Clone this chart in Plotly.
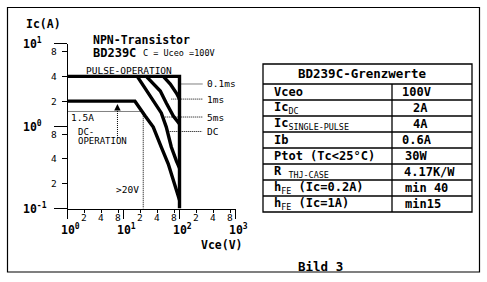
import math
import plotly.graph_objects as go

W, H = 487, 282

# ---------------- data ----------------
pulse_v = [1, 100, 100]          # pulse-operation envelope (Vce, V)
pulse_i = [4, 4, 0.1]            # (Ic, A)
dc_v = [1, 16, 24.4, 34, 47.3, 63.1, 100]
dc_i = [2, 2, 1.32, 0.97, 0.556, 0.346, 0.127]
ms5_v = [17.6, 26.5, 47.3, 58.1, 71.4, 87.9, 100]
ms5_i = [4, 2.58, 1.44, 0.97, 0.556, 0.377, 0.31]
ms1_v = [25.5, 45.4, 58.1, 77.6, 100]
ms1_i = [4, 2.66, 1.90, 1.32, 1.06]
ms01_v = [51.3, 68.5, 87.9, 100]
ms01_i = [4, 3.23, 2.51, 2.12]

curve_names = ["0.1ms", "1ms", "5ms", "DC"]
curve_label_i = [3.23, 2.12, 1.285, 0.858]
curve_label_v0 = [100, 71.4, 51.3, 58.1]
curve_label_v1 = 256
curve_label_vt = 290

dc_limit_i = 1.5
dc_limit_v = 22.5
arrow_v = 7.8
arrow_tail_i = 0.716
arrow_shaft_i = 1.62
arrow_tip_i = 1.85

x_major = [1, 10, 100, 1000]
x_major_text = ["10<sup>0</sup>", "10<sup>1</sup>", "10<sup>2</sup>", "10<sup>3</sup>"]
x_minor = [2, 4, 8, 20, 40, 80, 200, 400, 800]
x_minor_text = ["2", "4", "8", "2", "4", "8", "2", "4", "8"]
y_major = [0.1, 1, 10]
y_major_text = ["10<sup>-1</sup>", "10<sup>0</sup>", "10<sup>1</sup>"]
y_minor = [0.2, 0.4, 0.8, 2, 4, 8]
y_minor_text = ["2", "4", "8", "2", "4", "8"]

table_title = "BD239C-Grenzwerte"
table_params = ["Vceo", "Ic<sub>DC</sub>", "Ic<sub>SINGLE-PULSE</sub>", "Ib",
                "Ptot (Tc<25°C)", "R <sub>THJ-CASE</sub>",
                "h<sub>FE</sub> (Ic=0.2A)", "h<sub>FE</sub> (Ic=1A)"]
table_values = ["100V", "2A", "4A", "0.6A", "30W", "4.17K/W", "min 40", "min15"]

# ---------------- helpers ----------------
MONO = "DejaVu Sans Mono"


def px(x):
    return x / W


def py(y):
    return 1 - y / H


def font(size):
    return dict(family=MONO, size=size, color="black")


fig = go.Figure()

thick = dict(color="black", width=3.4)
for v, i in [(pulse_v, pulse_i), (dc_v, dc_i), (ms5_v, ms5_i), (ms1_v, ms1_i), (ms01_v, ms01_i)]:
    fig.add_trace(go.Scatter(x=v, y=i, mode="lines", line=thick,
                             hoverinfo="skip", showlegend=False))

dotted = dict(color="black", width=1, dash="1px,1px")
for n, yi, v0 in zip(curve_names, curve_label_i, curve_label_v0):
    fig.add_trace(go.Scatter(x=[v0, curve_label_v1], y=[yi, yi], mode="lines", line=dotted,
                             hoverinfo="skip", showlegend=False))
# 1.5 A / >20 V limit markers
fig.add_trace(go.Scatter(x=[1, dc_limit_v, dc_limit_v], y=[dc_limit_i, dc_limit_i, 0.1],
                         mode="lines", line=dotted, hoverinfo="skip", showlegend=False))
# arrow shaft
fig.add_trace(go.Scatter(x=[arrow_v, arrow_v], y=[arrow_tail_i, arrow_shaft_i],
                         mode="lines", line=dotted, hoverinfo="skip", showlegend=False))

ann = []
# arrow head
ann.append(dict(x=math.log10(arrow_v), y=math.log10(arrow_tip_i), xref="x", yref="y",
                ax=0, ay=7, axref="pixel", ayref="pixel", showarrow=True, arrowhead=2,
                arrowsize=1.3, arrowwidth=1, arrowcolor="black", text=""))

for n, yi in zip(curve_names, curve_label_i):
    ann.append(dict(x=math.log10(curve_label_vt), y=math.log10(yi), xref="x", yref="y",
                    text=n, showarrow=False, xanchor="left", yanchor="middle", font=font(9.5)))

# axis tick labels
for v, t in zip(x_minor, x_minor_text):
    ann.append(dict(x=math.log10(v), y=py(217.5), xref="x", yref="paper", text=t,
                    showarrow=False, xanchor="center", yanchor="middle", font=font(9.5)))
for v, t in zip(x_major, x_major_text):
    ann.append(dict(x=math.log10(v), y=py(229.5), xref="x", yref="paper", text="<b>" + t + "</b>",
                    xshift=3, showarrow=False, xanchor="center", yanchor="middle", font=font(11.5)))
for v, t in zip(y_minor, y_minor_text):
    ann.append(dict(x=px(59), y=math.log10(v), xref="paper", yref="y", text=t,
                    showarrow=False, xanchor="right", yanchor="middle", font=font(9.5)))
for v, t in zip(y_major, y_major_text):
    ann.append(dict(x=px(21), y=math.log10(v), xref="paper", yref="y", text="<b>" + t + "</b>",
                    showarrow=False, xanchor="left", yanchor="middle", font=font(11.5)))

# free texts (paper pixel positions)
texts = [
    ("<b>Ic(A)</b>", 24, 24.5, "left", 11.5),
    ("<b>Vce(V)</b>", 199, 244.5, "left", 11.5),
    ("<b>NPN-Transistor</b>", 91, 40.5, "left", 11.5),
    ("<b>BD239C</b>", 91, 53, "left", 12),
    ("C = Uceo =100V", 141, 53.5, "left", 8.5),
    ("PULSE-OPERATION", 84, 70.5, "left", 9.5),
    ("1.5A", 69, 117, "left", 9.5),
    ("DC-", 76, 132, "left", 9),
    ("OPERATION", 76, 141, "left", 9),
    (">20V", 141, 189, "right", 9.5),
    ("<b>Bild 3</b>", 296, 266, "left", 12.5),
]
for t, x, y, xa, s in texts:
    ann.append(dict(x=px(x), y=py(y), xref="paper", yref="paper", text=t, showarrow=False,
                    xanchor=xa, yanchor="middle", font=font(s)))

# table
tx0, tx1, ty0, thead, row_h, tcol = 263, 472, 64, 84, 16, 392
nrows = len(table_params)
ty1 = thead + nrows * row_h
shapes = [
    dict(type="rect", xref="paper", yref="paper", x0=px(7.5), x1=px(479.5), y0=py(272),
         y1=py(7.5), line=dict(color="black", width=1.2)),
    dict(type="rect", xref="paper", yref="paper", x0=px(tx0), x1=px(tx1), y0=py(ty1),
         y1=py(ty0), line=dict(color="black", width=1.3)),
    dict(type="line", xref="paper", yref="paper", x0=px(tcol), x1=px(tcol), y0=py(ty1),
         y1=py(thead), line=dict(color="black", width=1.3)),
]
for k in range(nrows):
    yl = thead + k * row_h
    shapes.append(dict(type="line", xref="paper", yref="paper", x0=px(tx0), x1=px(tx1),
                       y0=py(yl), y1=py(yl), line=dict(color="black", width=1.3)))
ann.append(dict(x=px(362), y=py(73.5), xref="paper", yref="paper", text="<b>" + table_title + "</b>",
                showarrow=False, xanchor="center", yanchor="middle", font=font(12.5)))
value_x = [400, 430, 430, 400, 403, 402, 403, 403]
value_anchor = ["left", "right", "right", "left", "left", "left", "left", "left"]
for k, (p, val) in enumerate(zip(table_params, table_values)):
    yc = thead + k * row_h + row_h / 2 - 0.5
    ptxt = p.replace("<sub>", "</b><sub>").replace("</sub>", "</sub><b>")
    ann.append(dict(x=px(272), y=py(yc), xref="paper", yref="paper", text="<b>" + ptxt + "</b>",
                    showarrow=False, xanchor="left", yanchor="middle", font=font(12)))
    ann.append(dict(x=px(value_x[k]), y=py(yc), xref="paper", yref="paper", text="<b>" + val + "</b>",
                    showarrow=False, xanchor=value_anchor[k], yanchor="middle", font=font(12)))

fig.update_layout(
    width=W, height=H, autosize=False,
    margin=dict(l=0, r=0, t=0, b=0, pad=0),
    paper_bgcolor="white", plot_bgcolor="white",
    showlegend=False,
    annotations=ann, shapes=shapes,
    xaxis=dict(type="log", range=[0, 3], domain=[px(67.5), px(235.5)],
               showline=True, linecolor="black", linewidth=1, mirror=False,
               showgrid=False, zeroline=False, showticklabels=False,
               ticks="outside", tickmode="array", tickvals=x_major, ticklen=9,
               tickcolor="black", tickwidth=1,
               minor=dict(tickmode="array", tickvals=x_minor, ticks="outside", ticklen=3,
                          tickcolor="black", tickwidth=1, showgrid=False)),
    yaxis=dict(type="log", range=[-1, 1], domain=[py(208.5), py(43.5)],
               showline=True, linecolor="black", linewidth=1, mirror=False,
               showgrid=False, zeroline=False, showticklabels=False,
               ticks="outside", tickmode="array", tickvals=y_major, ticklen=13,
               tickcolor="black", tickwidth=1,
               minor=dict(tickmode="array", tickvals=y_minor, ticks="outside", ticklen=5,
                          tickcolor="black", tickwidth=1, showgrid=False)),
)

fig.write_html("out.html")
